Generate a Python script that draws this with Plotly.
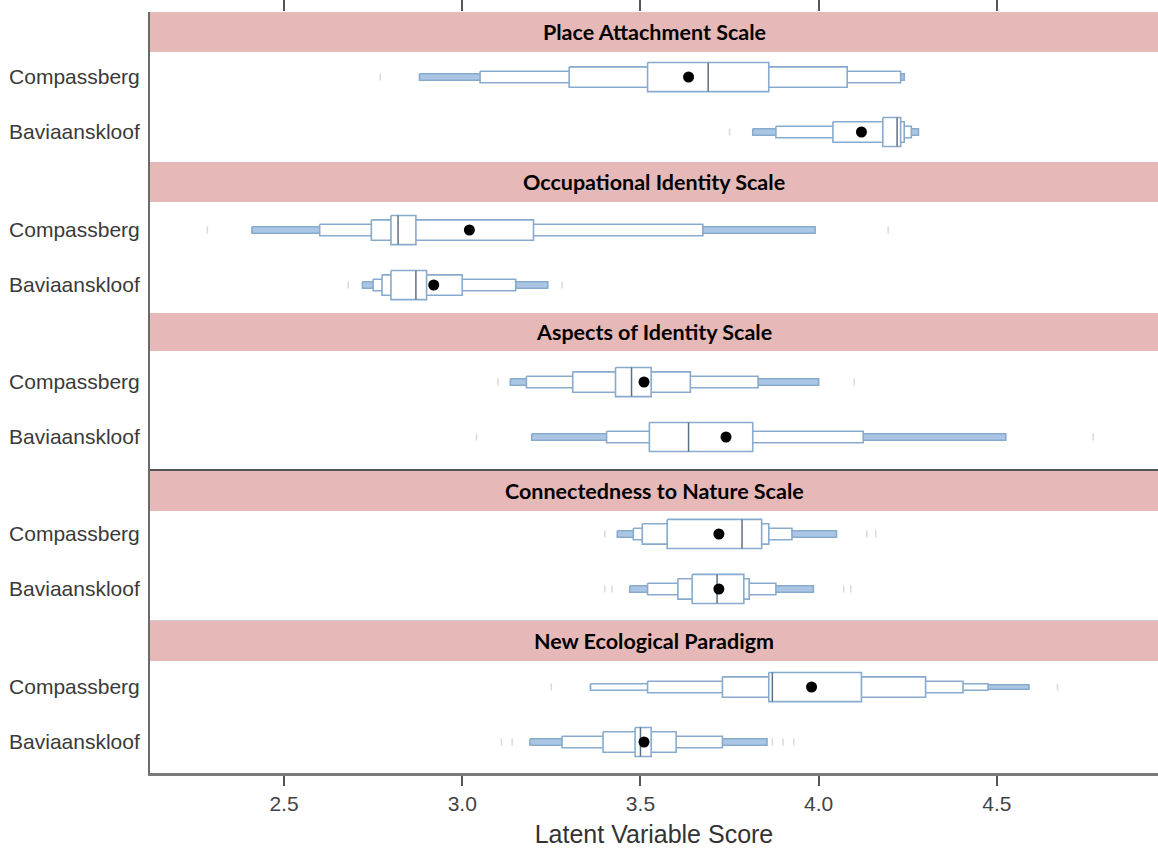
import plotly.graph_objects as go
from plotly.subplots import make_subplots

# ---------------- data ----------------
scales = ["Place Attachment Scale", "Occupational Identity Scale",
          "Aspects of Identity Scale", "Connectedness to Nature Scale",
          "New Ecological Paradigm"]
groups = ["Compassberg", "Baviaanskloof"]

# letter-value depth of each box (1 = fourths, 2 = eighths, ...), [scale][group]
letter_depths = [
    [[1, 2, 3, 4], [1, 2, 3, 4]],
    [[1, 2, 3, 4], [1, 2, 3, 4]],
    [[1, 2, 3, 4], [1, 3, 4]],
    [[1, 2, 3, 4], [1, 2, 3, 4]],
    [[1, 2, 3, 4, 5], [1, 2, 3, 4]],
]
lower_values = [
    [[3.52, 3.30, 3.05, 2.88], [4.18, 4.04, 3.88, 3.815]],
    [[2.80, 2.745, 2.60, 2.41], [2.80, 2.775, 2.75, 2.72]],
    [[3.43, 3.31, 3.18, 3.135], [3.525, 3.405, 3.195]],
    [[3.575, 3.505, 3.48, 3.435], [3.645, 3.605, 3.52, 3.47]],
    [[3.86, 3.73, 3.52, 3.36, 3.36], [3.485, 3.395, 3.28, 3.19]],
]
upper_values = [
    [[3.86, 4.08, 4.23, 4.24], [4.23, 4.24, 4.26, 4.28]],
    [[2.87, 3.20, 3.675, 3.99], [2.90, 3.00, 3.15, 3.24]],
    [[3.53, 3.64, 3.83, 4.00], [3.815, 4.125, 4.525]],
    [[3.84, 3.86, 3.925, 4.05], [3.79, 3.805, 3.88, 3.985]],
    [[4.12, 4.30, 4.405, 4.475, 4.59], [3.53, 3.60, 3.73, 3.855]],
]
medians = [[3.69, 4.22], [2.82, 2.87], [3.475, 3.635], [3.785, 3.715], [3.87, 3.50]]
means = [[3.635, 4.12], [3.02, 2.92], [3.51, 3.74], [3.72, 3.72], [3.98, 3.51]]
outliers = [
    [[2.77], [3.75]],
    [[2.285, 4.195], [2.68, 3.28]],
    [[3.10, 4.10], [3.04, 4.77]],
    [[3.40, 4.135, 4.16], [3.40, 3.42, 4.07, 4.09]],
    [[3.25, 4.67], [3.11, 3.14, 3.87, 3.90, 3.93]],
]
x_ticks = [2.5, 3.0, 3.5, 4.0, 4.5]
x_tick_labels = ["2.5", "3.0", "3.5", "4.0", "4.5"]

# ---------------- layout geometry (pixels) ----------------
W, H = 1158, 851
TOP, BOTTOM = 12, 773
PLOT_H = BOTTOM - TOP
panel_px = [(12, 162), (162, 312), (312, 469), (469, 620), (620, 773)]
strip_px = [(12, 52), (162, 202), (313, 351), (471, 511), (621, 661)]
first_cat_px = [77, 230, 382, 534, 687]
SLOT = 55.0

def py2paper(py):
    return (BOTTOM - py) / PLOT_H

depth_height = {1: 0.53, 2: 0.37, 3: 0.21, 4: 0.12, 5: 0.08}
LINE = "#88abcd"
FILL_OUT = "#aac6e4"
MED = "#5d7185"

fig = make_subplots(rows=5, cols=1, shared_xaxes=True, vertical_spacing=0)

for p in range(5):
    row = p + 1
    for g in range(2):
        c = g
        deps = letter_depths[p][g]
        lo = lower_values[p][g]
        hi = upper_values[p][g]
        n = len(deps)
        for k in reversed(range(n)):
            h = depth_height[deps[k]] / 2
            fill = FILL_OUT if k == n - 1 else "white"
            fig.add_trace(go.Scatter(
                x=[lo[k], hi[k], hi[k], lo[k], lo[k]],
                y=[c - h, c - h, c + h, c + h, c - h],
                mode="lines", fill="toself", fillcolor=fill,
                line=dict(color=LINE, width=1.6),
                hoverinfo="skip", showlegend=False), row=row, col=1)
        h1 = depth_height[deps[0]] / 2
        fig.add_trace(go.Scatter(
            x=[medians[p][g], medians[p][g]], y=[c - h1, c + h1],
            mode="lines", line=dict(color=MED, width=1.5),
            hoverinfo="skip", showlegend=False), row=row, col=1)
        fig.add_trace(go.Scatter(
            x=outliers[p][g], y=[c] * len(outliers[p][g]),
            mode="markers", marker=dict(color="#d9d9d9", size=5, symbol="line-ns-open",
                                        line=dict(color="#d0d0d0", width=1.5)),
            hoverinfo="skip", showlegend=False), row=row, col=1)
        fig.add_trace(go.Scatter(
            x=[means[p][g]], y=[c], mode="markers",
            marker=dict(color="black", size=11),
            showlegend=False), row=row, col=1)

shapes = []
annotations = []
for p in range(5):
    row = p + 1
    t_px, b_px = panel_px[p]
    top_val = -(first_cat_px[p] - t_px) / SLOT
    bot_val = top_val + (b_px - t_px) / SLOT
    yname = "yaxis" if row == 1 else f"yaxis{row}"
    fig.layout[yname].update(
        domain=[py2paper(b_px), py2paper(t_px)],
        range=[bot_val, top_val],
        tickvals=[0, 1], ticktext=groups,
        ticks="outside", ticklen=4, tickcolor="rgba(0,0,0,0)",
        tickfont=dict(family="Liberation Sans, Arial, sans-serif", size=21, color="#3a3a3a"),
        showgrid=False, zeroline=False,
        showline=True, linecolor="#6a6a6a", linewidth=2,
    )
    s0, s1 = strip_px[p]
    shapes.append(dict(type="rect", xref="paper", yref="paper",
                       x0=0, x1=1, y0=py2paper(s1), y1=py2paper(s0),
                       fillcolor="#E6B9B8", line=dict(width=0), layer="above"))
    annotations.append(dict(text="<b>" + scales[p] + "</b>", xref="paper", yref="paper",
                            x=0.5, y=py2paper((s0 + s1) / 2), showarrow=False,
                            xanchor="center", yanchor="middle",
                            font=dict(family="Lato, Open Sans, sans-serif", size=21.5, color="black")))

xr = [2.124, 4.952]
for row in range(1, 6):
    xname = "xaxis" if row == 1 else f"xaxis{row}"
    fig.layout[xname].update(range=xr, showgrid=False, zeroline=False,
                             tickvals=x_ticks)

fig.layout.xaxis.update(side="top", ticks="outside", ticklen=12, tickwidth=1.5,
                        tickcolor="#555", showticklabels=False, showline=False)
fig.layout.xaxis2.update(ticks="", showline=False)
fig.layout.xaxis3.update(ticks="", showline=True, linecolor="#555", linewidth=2.5)
fig.layout.xaxis4.update(ticks="", showline=True, linecolor="#d0d0d0", linewidth=2)
fig.layout.xaxis5.update(
    ticks="outside", ticklen=10, tickwidth=1.5, tickcolor="#555",
    showline=True, linecolor="#7a7a7a", linewidth=2.5,
    showticklabels=True, ticktext=x_tick_labels,
    tickfont=dict(family="Liberation Sans, Arial, sans-serif", size=21, color="#444"),
    title=dict(text="Latent Variable Score", standoff=12,
               font=dict(family="Liberation Sans, Arial, sans-serif", size=25, color="#333")),
)

fig.update_layout(
    width=W, height=H,
    margin=dict(l=150, r=0, t=TOP, b=H - BOTTOM),
    paper_bgcolor="white", plot_bgcolor="white",
    shapes=shapes, annotations=annotations,
    showlegend=False,
)

fig.write_html("out.html", config={"displayModeBar": False},
               post_script="document.body.style.margin='0px';document.body.style.overflow='hidden';")
